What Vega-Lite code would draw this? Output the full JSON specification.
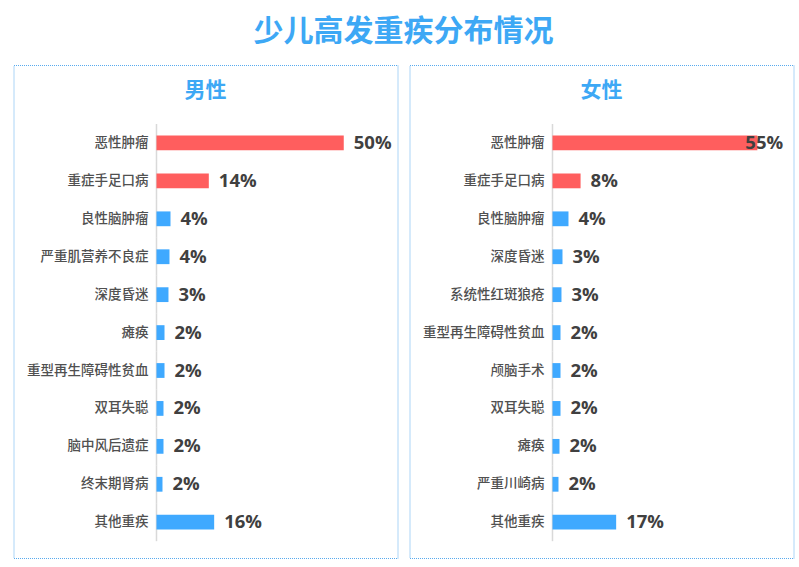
{
  "$schema": "https://vega.github.io/schema/vega-lite/v6.json",
  "autosize": {"type": "pad"},
  "padding": {"left": 12.5, "top": 16, "right": 5, "bottom": 8},
  "background": "white",
  "title": {"text": "少儿高发重疾分布情况", "fontSize": 30, "fontWeight": "bold", "color": "#3DA8F5", "font": "Noto Sans CJK SC", "anchor": "middle", "baseline": "middle", "offset": 3},
  "datasets": {
    "d": [
      {"sex": "男性", "rank": 1, "name": "恶性肿瘤", "value": 0.50, "label": "50%"},
      {"sex": "男性", "rank": 2, "name": "重症手足口病", "value": 0.1397, "label": "14%"},
      {"sex": "男性", "rank": 3, "name": "良性脑肿瘤", "value": 0.0374, "label": "4%"},
      {"sex": "男性", "rank": 4, "name": "严重肌营养不良症", "value": 0.0347, "label": "4%"},
      {"sex": "男性", "rank": 5, "name": "深度昏迷", "value": 0.032, "label": "3%"},
      {"sex": "男性", "rank": 6, "name": "瘫痪", "value": 0.0214, "label": "2%"},
      {"sex": "男性", "rank": 7, "name": "重型再生障碍性贫血", "value": 0.0214, "label": "2%"},
      {"sex": "男性", "rank": 8, "name": "双耳失聪", "value": 0.0187, "label": "2%"},
      {"sex": "男性", "rank": 9, "name": "脑中风后遗症", "value": 0.0187, "label": "2%"},
      {"sex": "男性", "rank": 10, "name": "终末期肾病", "value": 0.016, "label": "2%"},
      {"sex": "男性", "rank": 11, "name": "其他重疾", "value": 0.154, "label": "16%"},
      {"sex": "女性", "rank": 1, "name": "恶性肿瘤", "value": 0.547, "label": "55%"},
      {"sex": "女性", "rank": 2, "name": "重症手足口病", "value": 0.075, "label": "8%"},
      {"sex": "女性", "rank": 3, "name": "良性脑肿瘤", "value": 0.0427, "label": "4%"},
      {"sex": "女性", "rank": 4, "name": "深度昏迷", "value": 0.0267, "label": "3%"},
      {"sex": "女性", "rank": 5, "name": "系统性红斑狼疮", "value": 0.024, "label": "3%"},
      {"sex": "女性", "rank": 6, "name": "重型再生障碍性贫血", "value": 0.0214, "label": "2%"},
      {"sex": "女性", "rank": 7, "name": "颅脑手术", "value": 0.0214, "label": "2%"},
      {"sex": "女性", "rank": 8, "name": "双耳失聪", "value": 0.0214, "label": "2%"},
      {"sex": "女性", "rank": 9, "name": "瘫痪", "value": 0.0187, "label": "2%"},
      {"sex": "女性", "rank": 10, "name": "严重川崎病", "value": 0.016, "label": "2%"},
      {"sex": "女性", "rank": 11, "name": "其他重疾", "value": 0.17, "label": "17%"}
    ]
  },
  "config": {
    "view": {"stroke": "#58AAEE", "strokeDash": [1, 1], "strokeWidth": 1}
  },
  "spacing": 10,
  "hconcat": [
    {
      "title": {"text": "男性", "fontSize": 21, "color": "#3DA8F5", "font": "Noto Sans CJK SC", "fontWeight": "bold", "baseline": "middle", "offset": -47, "anchor": "middle"},
      "width": 384,
      "height": 493,
      "data": {"name": "d"},
      "transform": [{"filter": "datum.sex === '男性'"}],
      "encoding": {
        "y": {"field": "name", "type": "nominal", "sort": {"field": "rank", "op": "min"}, "axis": null,
              "scale": {"paddingInner": 0, "paddingOuter": 1, "align": 0.778, "round": false}}
      },
      "layer": [
        {"mark": {"type": "tick", "color": "#D9D9D9", "thickness": 1.5, "size": 38, "opacity": 1},
         "encoding": {"x": {"datum": 0, "type": "quantitative", "scale": {"domain": [-0.3818, 0.6435], "nice": false, "zero": false}, "axis": null}}},
        {"mark": {"type": "bar", "height": {"band": 0.39}},
         "encoding": {"x": {"field": "value", "type": "quantitative"},
                      "color": {"condition": {"test": "datum.rank <= 2", "value": "#FF5E5E"}, "value": "#3FA9FF"}}},
        {"mark": {"type": "text", "align": "right", "baseline": "middle", "dx": -8, "font": "Noto Sans CJK SC", "fontWeight": 500, "fontSize": 13.5, "color": "#505050"},
         "encoding": {"x": {"datum": 0, "type": "quantitative"}, "text": {"field": "name"}}},
        {"transform": [{"filter": "datum.value < 0.52"}],
         "mark": {"type": "text", "align": "left", "baseline": "middle", "dx": 10, "font": "Open Sans", "fontWeight": "bold", "fontSize": 18.5, "color": "#404040"},
         "encoding": {"x": {"field": "value", "type": "quantitative"}, "text": {"field": "label"}}},
        {"transform": [{"filter": "datum.value >= 0.52"}],
         "mark": {"type": "text", "align": "left", "baseline": "middle", "dx": -12, "font": "Open Sans", "fontWeight": "bold", "fontSize": 18.5, "color": "#404040"},
         "encoding": {"x": {"field": "value", "type": "quantitative"}, "text": {"field": "label"}}}
      ]
    },
    {
      "title": {"text": "女性", "fontSize": 21, "color": "#3DA8F5", "font": "Noto Sans CJK SC", "fontWeight": "bold", "baseline": "middle", "offset": -47, "anchor": "middle"},
      "width": 384,
      "height": 493,
      "data": {"name": "d"},
      "transform": [{"filter": "datum.sex === '女性'"}],
      "encoding": {
        "y": {"field": "name", "type": "nominal", "sort": {"field": "rank", "op": "min"}, "axis": null,
              "scale": {"paddingInner": 0, "paddingOuter": 1, "align": 0.778, "round": false}}
      },
      "layer": [
        {"mark": {"type": "tick", "color": "#D9D9D9", "thickness": 1.5, "size": 38, "opacity": 1},
         "encoding": {"x": {"datum": 0, "type": "quantitative", "scale": {"domain": [-0.3818, 0.6435], "nice": false, "zero": false}, "axis": null}}},
        {"mark": {"type": "bar", "height": {"band": 0.39}},
         "encoding": {"x": {"field": "value", "type": "quantitative"},
                      "color": {"condition": {"test": "datum.rank <= 2", "value": "#FF5E5E"}, "value": "#3FA9FF"}}},
        {"mark": {"type": "text", "align": "right", "baseline": "middle", "dx": -8, "font": "Noto Sans CJK SC", "fontWeight": 500, "fontSize": 13.5, "color": "#505050"},
         "encoding": {"x": {"datum": 0, "type": "quantitative"}, "text": {"field": "name"}}},
        {"transform": [{"filter": "datum.value < 0.52"}],
         "mark": {"type": "text", "align": "left", "baseline": "middle", "dx": 10, "font": "Open Sans", "fontWeight": "bold", "fontSize": 18.5, "color": "#404040"},
         "encoding": {"x": {"field": "value", "type": "quantitative"}, "text": {"field": "label"}}},
        {"transform": [{"filter": "datum.value >= 0.52"}],
         "mark": {"type": "text", "align": "left", "baseline": "middle", "dx": -12, "font": "Open Sans", "fontWeight": "bold", "fontSize": 18.5, "color": "#404040"},
         "encoding": {"x": {"field": "value", "type": "quantitative"}, "text": {"field": "label"}}}
      ]
    }
  ]
}
